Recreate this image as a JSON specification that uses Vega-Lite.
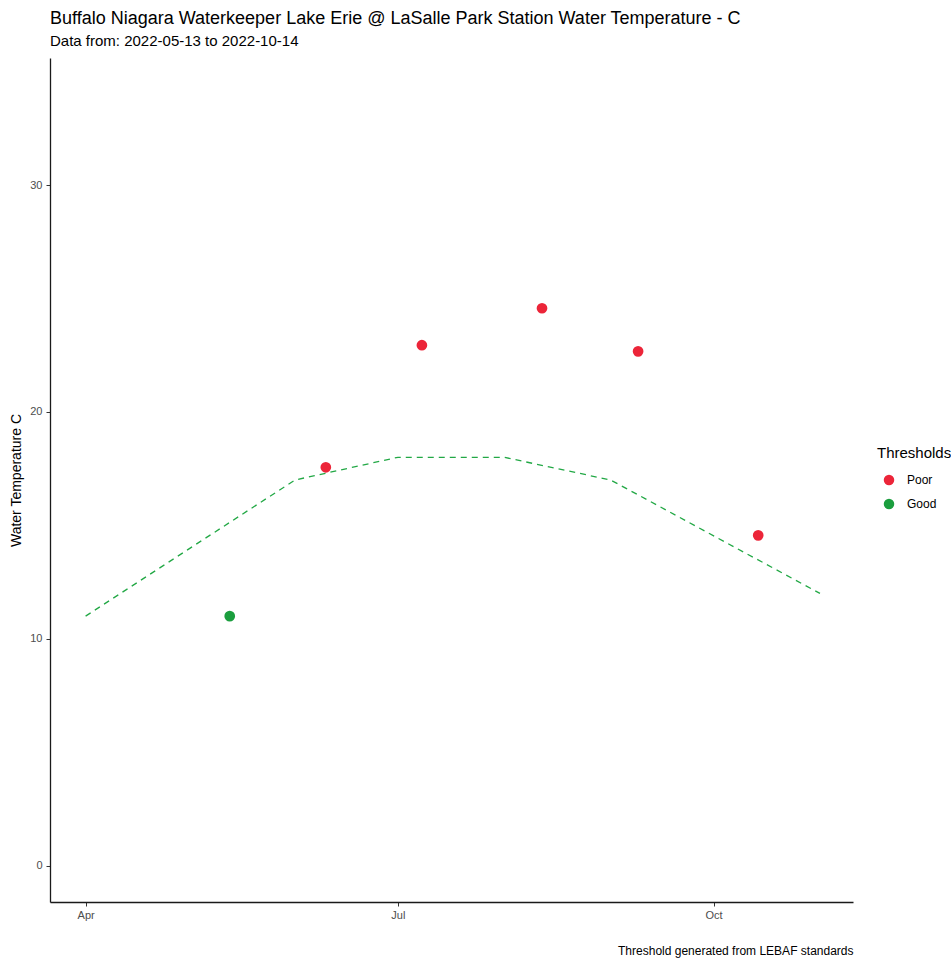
{
  "$schema": "https://vega.github.io/schema/vega-lite/v6.json",
  "width": 803,
  "height": 844,
  "autosize": {"type": "none"},
  "padding": {"left": 50, "top": 58, "right": 98, "bottom": 56},
  "background": "white",
  "config": {
    "font": "Liberation Sans",
    "view": {"stroke": null},
    "axis": {
      "grid": false,
      "domainColor": "#1a1a1a",
      "domainWidth": 1.3,
      "tickColor": "#333333",
      "tickSize": 4,
      "labelColor": "#4d4d4d",
      "labelFontSize": 11,
      "labelFont": "Liberation Sans",
      "titleFont": "Liberation Sans",
      "titleFontWeight": "normal",
      "titleColor": "black"
    }
  },
  "title": {
    "text": "Buffalo Niagara Waterkeeper Lake Erie @ LaSalle Park Station Water Temperature - C",
    "subtitle": "Data from: 2022-05-13 to 2022-10-14",
    "anchor": "start",
    "frame": "group",
    "font": "Liberation Sans",
    "fontSize": 18,
    "fontWeight": "normal",
    "color": "black",
    "subtitleFont": "Liberation Sans",
    "subtitleFontSize": 15,
    "subtitleColor": "black",
    "subtitlePadding": 6,
    "offset": 9
  },
  "datasets": {
    "threshold": [
      {"date": "2022-04-01", "value": 11},
      {"date": "2022-06-01", "value": 17},
      {"date": "2022-07-01", "value": 18},
      {"date": "2022-08-01", "value": 18},
      {"date": "2022-09-01", "value": 17},
      {"date": "2022-11-01", "value": 12}
    ],
    "obs": [
      {"date": "2022-05-13", "value": 11.0, "Thresholds": "Good"},
      {"date": "2022-06-10", "value": 17.56, "Thresholds": "Poor"},
      {"date": "2022-07-08", "value": 22.94, "Thresholds": "Poor"},
      {"date": "2022-08-12", "value": 24.57, "Thresholds": "Poor"},
      {"date": "2022-09-09", "value": 22.67, "Thresholds": "Poor"},
      {"date": "2022-10-14", "value": 14.56, "Thresholds": "Poor"}
    ]
  },
  "encoding": {
    "x": {
      "field": "date",
      "type": "temporal",
      "scale": {
        "type": "utc",
        "domain": [
          {"year": 2022, "month": 3, "date": 21, "hours": 15, "utc": true},
          {"year": 2022, "month": 11, "date": 10, "hours": 15, "utc": true}
        ],
        "nice": false
      },
      "axis": {
        "values": [
          {"year": 2022, "month": 4, "date": 1, "utc": true},
          {"year": 2022, "month": 7, "date": 1, "utc": true},
          {"year": 2022, "month": 10, "date": 1, "utc": true}
        ],
        "labelExpr": "utcFormat(datum.value, '%b')",
        "labelPadding": 3,
        "title": "Threshold generated from LEBAF standards",
        "titleAnchor": "end",
        "titleFontSize": 12,
        "titlePadding": 25
      }
    },
    "y": {
      "field": "value",
      "type": "quantitative",
      "scale": {"domain": [-1.6, 35.6], "nice": false, "zero": false},
      "axis": {
        "values": [0, 10, 20, 30],
        "title": "Water Temperature C",
        "titleFontSize": 14,
        "titlePadding": 6,
        "labelPadding": 4
      }
    }
  },
  "layer": [
    {
      "data": {"name": "threshold"},
      "mark": {"type": "line", "color": "#22a845", "strokeWidth": 1.3, "strokeDash": [6, 5]}
    },
    {
      "data": {"name": "obs"},
      "mark": {"type": "circle", "size": 115, "opacity": 1},
      "encoding": {
        "color": {
          "field": "Thresholds",
          "type": "nominal",
          "scale": {"domain": ["Poor", "Good"], "range": ["#EC2539", "#1B9E3E"]},
          "legend": {
            "orient": "none",
            "legendX": 827,
            "legendY": 388,
            "title": "Thresholds",
            "titleFontSize": 15,
            "titleFontWeight": "normal",
            "titleColor": "black",
            "titlePadding": 13,
            "labelFontSize": 12,
            "labelColor": "black",
            "labelOffset": 12,
            "symbolSize": 110,
            "symbolType": "circle",
            "symbolOffset": 6,
            "rowPadding": 12
          }
        }
      }
    }
  ]
}
